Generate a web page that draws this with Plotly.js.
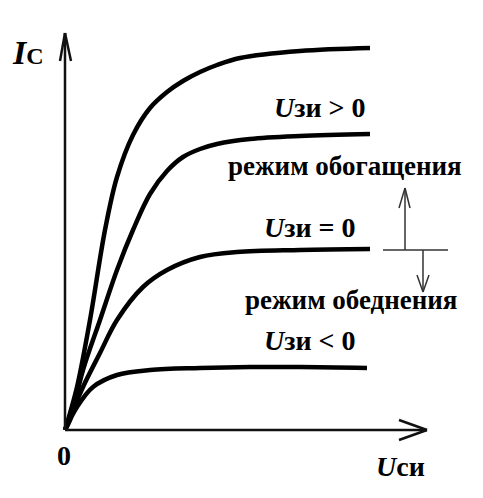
<!DOCTYPE html>
<html>
<head>
<meta charset="utf-8">
<script src="https://cdn.plot.ly/plotly-3.0.1.min.js"></script>
<style>html,body{margin:0;padding:0;background:#fff;}#chart{width:483px;height:498px;}</style>
</head>
<body>
<div id="chart"></div>
<script>
// Output characteristics Ic(Uси) for three gate voltages (arbitrary units)
const uPos_x = [0, 3, 12, 25, 40, 52, 68, 85, 102, 118, 135, 152, 175, 235, 305];
const uPos_y = [0, 10, 43, 110, 200, 253, 295, 322, 338, 349, 358, 365, 372, 379, 382];
const uMid_x = [0, 5, 18, 35, 52, 68, 85, 102, 118, 135, 152, 185, 235, 305];
const uMid_y = [0, 10, 60, 110, 160, 200, 236, 259, 273, 281, 286, 291, 294, 296];
const uZero_x = [0, 18, 35, 52, 78, 102, 135, 172, 235, 305];
const uZero_y = [0, 43, 77, 110, 143, 160, 173, 178, 180, 181];
const uNeg_x = [0, 12, 28, 52, 85, 135, 185, 235, 302];
const uNeg_y = [0, 23, 43, 55, 60, 62, 63, 63, 62];

const labels = {
  ic: '<b><i>I</i></b><b><span style="font-size:24px">С</span></b>',
  uPos: '<b><i>U</i>зи &gt; 0</b>',
  uZero: '<b><i>U</i>зи = 0</b>',
  uNeg: '<b><i>U</i>зи &lt; 0</b>',
  enrich: '<b>режим обогащения</b>',
  deplete: '<b>режим обеднения</b>',
  zero: '<b>0</b>',
  uds: '<b><i>U</i>си</b>'
};

const X0 = -65, X1 = 418, Y0 = -68, Y1 = 430;
const xAxisEnd = 362, yAxisEnd = 397;

const curve = (x, y) => ({x, y, type: 'scatter', mode: 'lines',
  line: {color: '#000', width: 4.5, shape: 'spline', smoothing: 1},
  hoverinfo: 'skip', showlegend: false});

const data = [curve(uPos_x, uPos_y), curve(uMid_x, uMid_y), curve(uZero_x, uZero_y), curve(uNeg_x, uNeg_y)];

const ln = (x0, y0, x1, y1, w, c) => ({type: 'line', xref: 'x', yref: 'y', x0, y0, x1, y1,
  line: {color: c || '#111', width: w}});

const ix = 340, iy = 180;
const shapes = [
  ln(0, 0, xAxisEnd, 0, 2.5),
  ln(0, 0, 0, yAxisEnd, 2.5),
  ln(xAxisEnd, 0, xAxisEnd - 28, 10, 2.5),
  ln(xAxisEnd, 0, xAxisEnd - 28, -10, 2.5),
  ln(0, yAxisEnd, -5, yAxisEnd - 28, 2.5),
  ln(0, yAxisEnd, 6, yAxisEnd - 28, 2.5),
  ln(318, iy, 383, iy, 1.5, '#333'),
  ln(ix, iy, ix, 242, 1.5, '#333'),
  ln(ix, 242, ix - 6, 222, 1.5, '#333'),
  ln(ix, 242, ix + 5, 222, 1.5, '#333'),
  ln(358, iy, 358, 138, 1.5, '#333'),
  ln(358, 138, 352, 155, 1.5, '#333'),
  ln(358, 138, 364, 155, 1.5, '#333')
];

const FONT = 'Liberation Serif';
const ann = (text, x, y, size) => ({text, x, y, xref: 'x', yref: 'y', showarrow: false,
  xanchor: 'center', yanchor: 'middle', font: {family: FONT, size, color: '#000'}});

const annotations = [
  ann(labels.ic, -37, 378, 34),
  ann(labels.uPos, 255, 323, 28),
  ann(labels.enrich, 280, 264, 27),
  ann(labels.uZero, 245, 203, 28),
  ann(labels.deplete, 286, 130, 27),
  ann(labels.uNeg, 245, 90, 28),
  ann(labels.zero, -1, -25, 28),
  ann(labels.uds, 335, -36, 28)
];

const layout = {
  width: 483, height: 498,
  margin: {l: 0, r: 0, t: 0, b: 0},
  paper_bgcolor: '#fff', plot_bgcolor: '#fff',
  font: {family: FONT},
  xaxis: {range: [X0, X1], visible: false, fixedrange: true},
  yaxis: {range: [Y0, Y1], visible: false, fixedrange: true},
  shapes, annotations, showlegend: false
};

Plotly.newPlot('chart', data, layout, {displayModeBar: false, staticPlot: true});
</script>
</body>
</html>
